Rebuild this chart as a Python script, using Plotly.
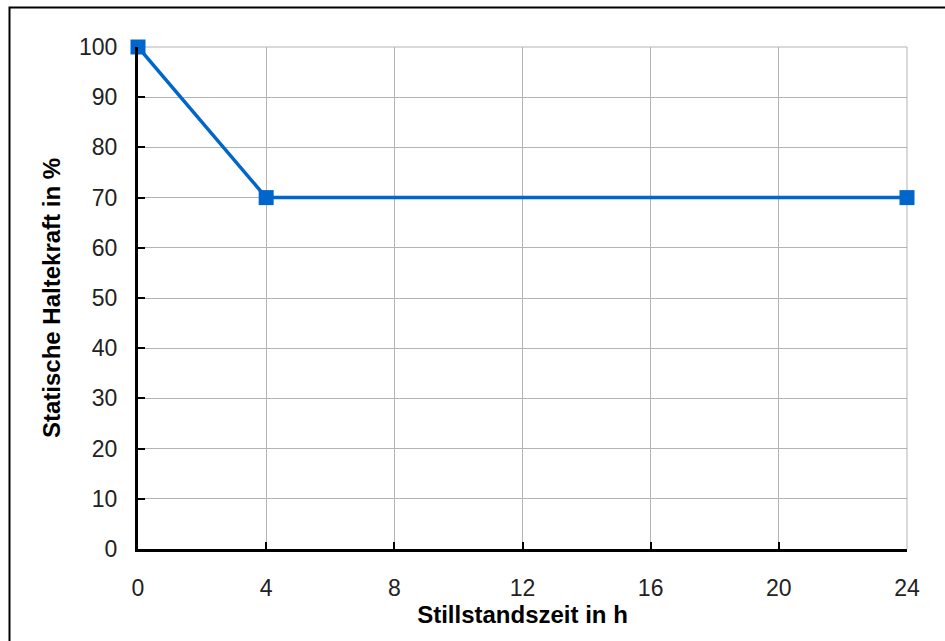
import plotly.graph_objects as go

x_hours = [0, 4, 24]
y_percent = [100, 70, 70]
x_ticks = [0, 4, 8, 12, 16, 20, 24]
y_ticks = [0, 10, 20, 30, 40, 50, 60, 70, 80, 90, 100]

W, H = 945, 641
L, R, T, B = 138, 38, 47, 92
pw, ph = W - L - R, H - T - B

fig = go.Figure()
fig.add_trace(go.Scatter(
    x=x_hours, y=y_percent, mode="lines+markers",
    line=dict(color="#0066CC", width=3.5),
    marker=dict(symbol="square", size=15, color="#0066CC"),
    cliponaxis=False, showlegend=False,
))

font = "Liberation Sans, Arial, sans-serif"
fig.update_layout(
    width=W, height=H,
    margin=dict(l=L, r=R, t=T, b=B),
    paper_bgcolor="white", plot_bgcolor="white",
    font=dict(family=font, color="black"),
    xaxis=dict(
        range=[0, 24], tickvals=x_ticks, ticktext=[str(v) for v in x_ticks],
        showgrid=True, gridcolor="#b3b3b3", gridwidth=1,
        showline=True, linecolor="black", linewidth=3,
        ticks="inside", ticklen=7, tickwidth=2, tickcolor="black",
        tickfont=dict(size=23, family=font, color="#222"),
        ticklabelstandoff=16,
        zeroline=False,
        title=dict(text="<b>Stillstandszeit in h</b>", font=dict(size=24, family=font), standoff=2),
    ),
    yaxis=dict(
        range=[0, 100], tickvals=y_ticks, ticktext=[str(v) for v in y_ticks],
        showgrid=True, gridcolor="#b3b3b3", gridwidth=1,
        showline=True, linecolor="black", linewidth=3,
        ticks="inside", ticklen=7, tickwidth=2, tickcolor="black",
        tickfont=dict(size=23, family=font, color="#222"),
        ticklabelstandoff=13,
        zeroline=False,
        title=dict(text="<b>Statische Haltekraft in %</b>", font=dict(size=24, family=font), standoff=12),
    ),
    shapes=[
        dict(type="line", xref="paper", yref="paper", x0=1, x1=1, y0=0, y1=1,
             line=dict(color="#b3b3b3", width=1), layer="below"),
        dict(type="line", xref="paper", yref="paper", x0=0, x1=1, y0=1, y1=1,
             line=dict(color="#b3b3b3", width=1), layer="below"),
        dict(type="rect", xref="paper", yref="paper",
             x0=(9.5 - L) / pw, x1=1 + (R + 10) / pw,
             y0=-(B + 10) / ph, y1=1 + (T - 7.5) / ph,
             line=dict(color="black", width=2), fillcolor="rgba(0,0,0,0)"),
    ],
)

fig.write_html(
    "out.html",
    config={"displayModeBar": False},
    post_script="document.body.style.margin='0';document.body.style.overflow='hidden';",
)
